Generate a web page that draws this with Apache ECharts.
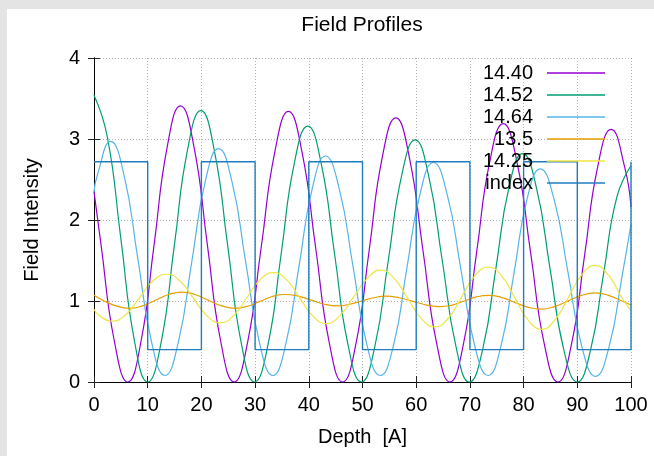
<!DOCTYPE html>
<html>
<head>
<meta charset="utf-8">
<script src="https://cdn.jsdelivr.net/npm/echarts@6/dist/echarts.min.js"></script>
<style>
  html, body { margin: 0; padding: 0; background: #e4e4e4; }
  #main { position: absolute; left: 7px; top: 9px; width: 647px; height: 447px; background: #fff; }
</style>
</head>
<body>
<div id="main"></div>
<script>
// values: [depth, intensity]
var names = ['14.40', '14.52', '14.64', '13.5', '14.25', 'index']

var f1440 = [[0,2.35],[1.3,1.70],[3.8,0.50],[6.3,0],[8.75,0.50],[11.2,1.70],[13.65,2.91],[16.1,3.41],
  [18.6,2.91],[21.1,1.70],[23.6,0.50],[26.1,0],[28.6,0.49],[31.15,1.67],[33.7,2.85],[36.2,3.34],
  [38.7,2.85],[41.25,1.67],[43.8,0.49],[46.3,0],[48.8,0.48],[51.25,1.63],[53.7,2.78],[56.2,3.26],
  [58.7,2.78],[61.25,1.63],[63.8,0.48],[66.3,0],[68.8,0.47],[71.25,1.60],[73.7,2.72],[76.2,3.19],
  [78.75,2.72],[81.3,1.60],[83.85,0.47],[86.4,0],[88.9,0.46],[91.35,1.56],[93.8,2.66],[96.3,3.12],
  [98.8,2.66],[100,2.16]]

var f1452 = [[0,3.54],[2.5,3.02],[5,1.77],[7.5,0.52],[10,0],[12.5,0.49],[14.95,1.68],[17.4,2.86],[19.9,3.35],
  [22.4,2.86],[24.9,1.68],[27.4,0.49],[29.9,0],[32.4,0.46],[34.85,1.58],[37.3,2.70],[39.8,3.16],
  [42.3,2.70],[44.8,1.58],[47.3,0.46],[49.8,0],[52.3,0.44],[54.8,1.50],[57.3,2.55],[59.8,2.99],
  [62.3,2.55],[64.85,1.50],[67.4,0.44],[69.9,0],[72.4,0.41],[74.85,1.41],[77.3,2.41],[79.8,2.82],
  [82.35,2.41],[84.9,1.41],[87.45,0.41],[90,0],[92.45,0.39],[94.9,1.34],[97.35,2.28],[100,2.67]]

var f1464 = [[0,2.34],[0.6,2.55],[3.1,2.97],[5.6,2.55],[8.15,1.53],[10.7,0.50],[13.2,0.08],
  [15.7,0.49],[18.2,1.48],[20.7,2.47],[23.2,2.88],[25.7,2.47],[28.25,1.48],[30.8,0.49],[33.3,0.08],
  [35.75,0.48],[38.2,1.44],[40.65,2.39],[43.1,2.79],[45.65,2.39],[48.2,1.44],[50.75,0.48],[53.3,0.08],
  [55.8,0.46],[58.25,1.40],[60.7,2.32],[63.2,2.71],[65.75,2.32],[68.3,1.40],[70.85,0.46],[73.4,0.08],
  [75.8,0.45],[78.25,1.36],[80.65,2.26],[83.1,2.63],[85.65,2.26],[88.25,1.36],[90.8,0.45],[93.4,0.07],
  [95.9,0.43],[98.35,1.31],[100,1.95]]

var f135 = [[0,1.07],[1.6,1.01],[4.1,0.94],[6.6,0.91],[9.0,0.94],[11.45,1.01],[13.9,1.08],[16.3,1.11],
  [18.8,1.08],[21.3,1.01],[23.8,0.94],[26.3,0.91],[28.6,0.935],[30.9,0.995],[33.2,1.055],[35.5,1.08],
  [38.0,1.06],[40.45,1.01],[42.9,0.96],[45.4,0.94],[47.6,0.96],[49.85,1.00],[52.1,1.04],[54.3,1.06],
  [56.85,1.04],[59.4,0.995],[61.95,0.95],[64.5,0.93],[66.7,0.95],[68.95,1.00],[71.2,1.05],[73.4,1.07],
  [75.85,1.045],[78.3,0.985],[80.75,0.925],[83.2,0.90],[85.7,0.93],[88.25,1.00],[90.8,1.07],[93.3,1.10],
  [95.8,1.07],[98.3,1.00],[100,0.95]]

var f1425 = [[0,0.90],[0.8,0.83],[3.3,0.75],[5.9,0.83],[8.45,1.04],[11.0,1.25],[13.6,1.33],
  [16.1,1.24],[18.55,1.03],[21.0,0.82],[23.5,0.73],[26.0,0.82],[28.45,1.04],[30.9,1.26],[33.4,1.35],
  [35.9,1.26],[38.35,1.035],[40.8,0.81],[43.3,0.72],[45.8,0.82],[48.35,1.05],[50.9,1.28],[53.4,1.38],
  [55.9,1.28],[58.45,1.03],[61.0,0.78],[63.5,0.68],[66.0,0.79],[68.45,1.05],[70.9,1.31],[73.4,1.42],
  [75.9,1.31],[78.4,1.035],[80.9,0.76],[83.4,0.65],[85.9,0.77],[88.35,1.045],[90.8,1.32],[93.3,1.44],
  [95.8,1.32],[98.3,1.04],[100,0.88]]

var indexProfile = [[0,2.72],[10,2.72],[10,0.4],[20,0.4],[20,2.72],[30,2.72],[30,0.4],[40,0.4],
  [40,2.72],[50,2.72],[50,0.4],[60,0.4],[60,2.72],[70,2.72],[70,0.4],[80,0.4],[80,2.72],[90,2.72],
  [90,0.4],[100,0.4],[100,2.72]]

var colors = ['#9400d3', '#009e73', '#56b4e9', '#e69f00', '#f0e442', '#1f7cbf']
var font = 'Liberation Sans, Helvetica, Arial, sans-serif'

function curve (i, data, smooth, width) {
  return {
    name: names[i],
    type: 'line',
    data: data,
    smooth: smooth,
    symbol: 'none',
    lineStyle: { color: colors[i], width: width },
    itemStyle: { color: colors[i] },
    xAxisIndex: 0,
    yAxisIndex: 0
  }
}

var tickStyle = { show: true, inside: true, length: 6, lineStyle: { color: '#222' } }
var gridLine = { show: true, lineStyle: { color: '#b4b4b4', type: [1, 2], width: 1 } }

var myChart = echarts.init(document.getElementById('main'))

var option = {
  animation: false,
  textStyle: { fontFamily: font },
  grid: { left: 87, right: 23, top: 49, bottom: 74 },
  graphic: [{
    type: 'text', x: 355, y: 16,
    style: { text: 'Field Profiles', fontSize: 21, fontFamily: font, fill: '#000', align: 'center', verticalAlign: 'middle' }
  }],
  legend: {
    orient: 'vertical',
    right: 49,
    top: 53,
    padding: 0,
    align: 'right',
    icon: 'rect',
    itemWidth: 58,
    itemHeight: 1.5,
    itemGap: 0,
    selectedMode: false,
    data: names,
    textStyle: { fontSize: 20, color: '#000', fontFamily: font, lineHeight: 22, padding: [0, 9, 0, 0] }
  },
  xAxis: [{
    type: 'value', min: 0, max: 100, interval: 10, position: 'bottom',
    name: 'Depth  [A]', nameLocation: 'middle', nameGap: 45,
    nameTextStyle: { fontSize: 20, color: '#000', fontFamily: font },
    axisLine: { lineStyle: { color: '#000', width: 1 } },
    axisTick: tickStyle,
    axisLabel: { fontSize: 20, color: '#000', margin: 13, fontFamily: font },
    splitLine: gridLine
  }, {
    type: 'value', min: 0, max: 100, interval: 10, position: 'top',
    axisLine: { lineStyle: { color: '#000', width: 1 } },
    axisTick: tickStyle,
    axisLabel: { show: false },
    splitLine: { show: false }
  }],
  yAxis: [{
    type: 'value', min: 0, max: 4, interval: 1, position: 'left',
    name: 'Field Intensity', nameLocation: 'middle', nameGap: 52,
    nameTextStyle: { fontSize: 20, color: '#000', fontFamily: font },
    axisLine: { show: true, lineStyle: { color: '#000', width: 1 } },
    axisTick: tickStyle,
    axisLabel: { fontSize: 20, color: '#000', margin: 14, fontFamily: font },
    splitLine: gridLine
  }, {
    type: 'value', min: 0, max: 4, interval: 1, position: 'right',
    axisLine: { show: true, lineStyle: { color: '#000', width: 1 } },
    axisTick: tickStyle,
    axisLabel: { show: false },
    splitLine: { show: false }
  }],
  series: [
    curve(0, f1440, true, 1.2),
    curve(1, f1452, true, 1.2),
    curve(2, f1464, true, 1.2),
    curve(3, f135, true, 1.2),
    curve(4, f1425, true, 1.2),
    curve(5, indexProfile, false, 1.4)
  ]
}

myChart.setOption(option)
</script>
</body>
</html>
